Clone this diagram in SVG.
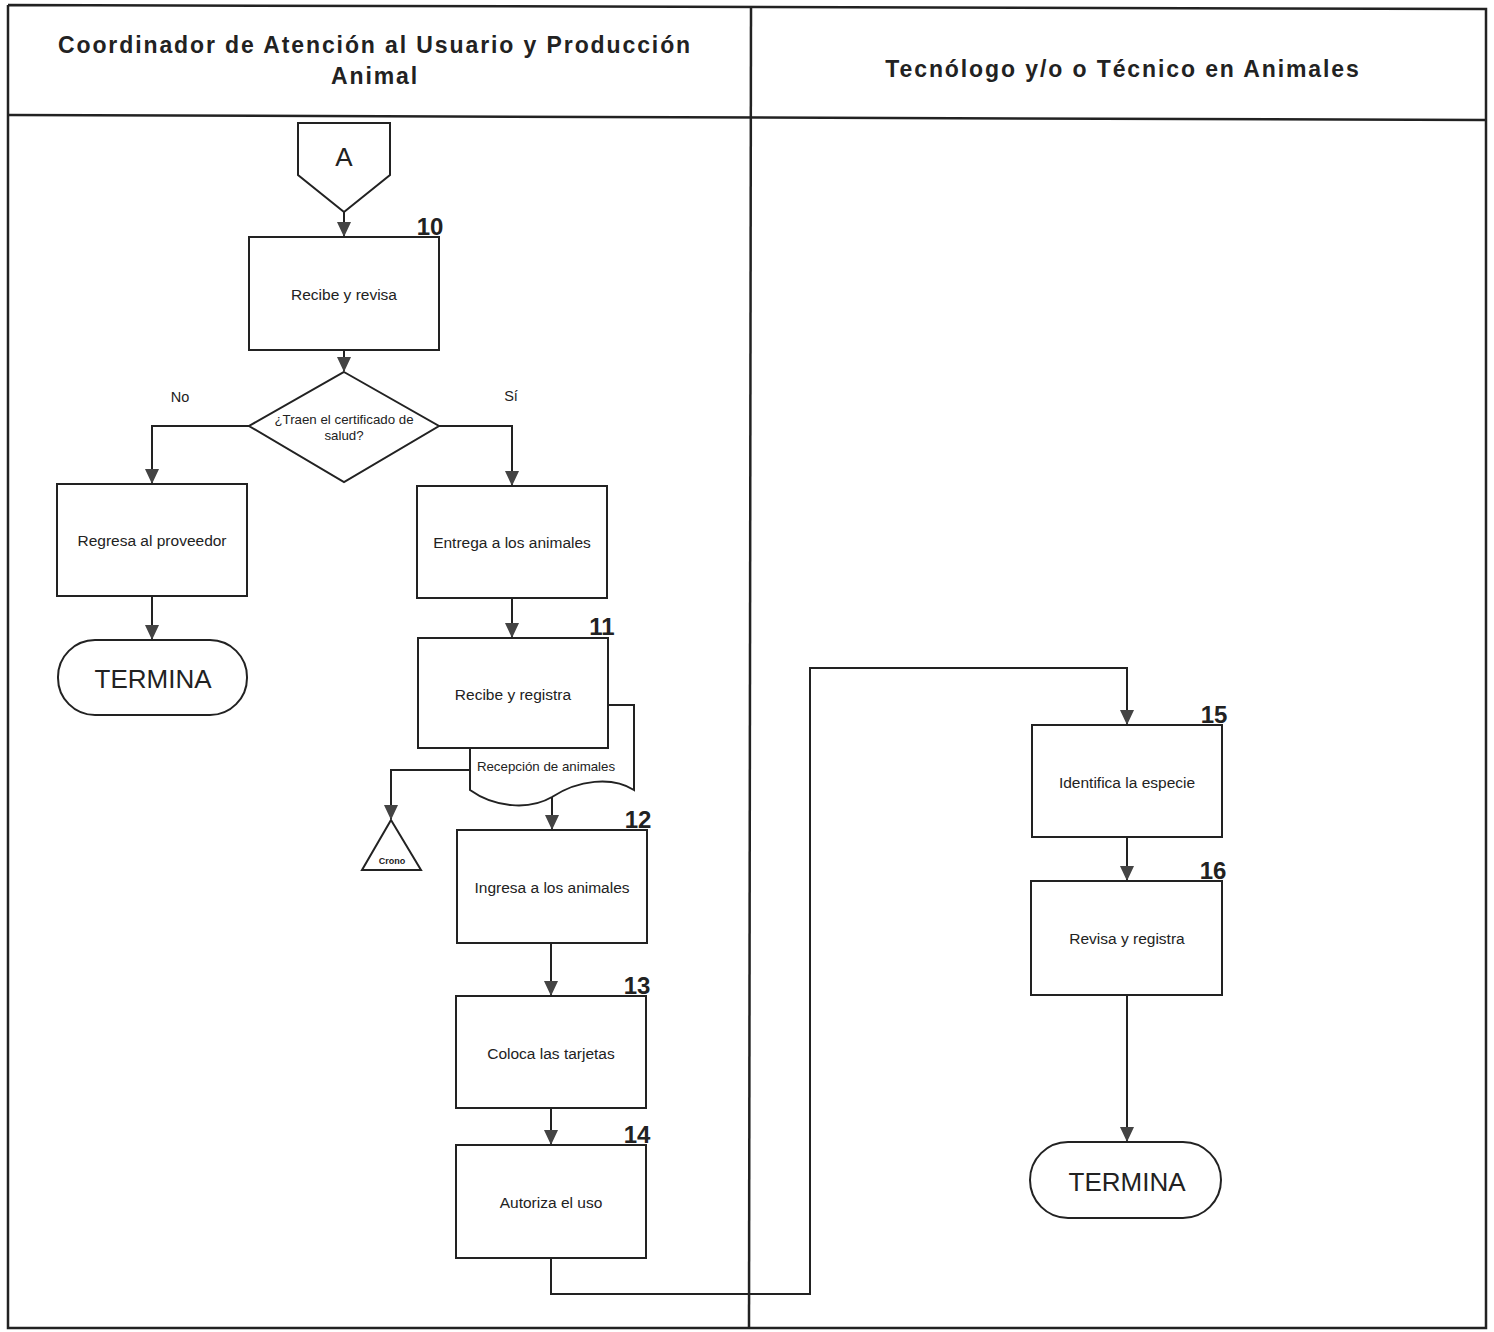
<svg xmlns="http://www.w3.org/2000/svg" width="1494" height="1332" viewBox="0 0 1494 1332">
<style>
.frame{fill:none;stroke:#222;stroke-width:2.5}
.shape{fill:#fff;stroke:#222;stroke-width:2}
.conn{fill:none;stroke:#222;stroke-width:2}
.hdr{font-family:"Liberation Sans",Arial,sans-serif;font-weight:bold;font-size:23px;letter-spacing:1.9px;fill:#222;text-anchor:middle}
.lbl{font-family:"Liberation Sans",Arial,sans-serif;font-size:15.5px;fill:#222;text-anchor:middle}
.num{font-family:"Liberation Sans",Arial,sans-serif;font-weight:bold;font-size:24px;fill:#222;text-anchor:middle}
.term{font-family:"Liberation Sans",Arial,sans-serif;font-size:26px;fill:#222;text-anchor:middle}
.small{font-family:"Liberation Sans",Arial,sans-serif;font-size:13.3px;fill:#222;text-anchor:middle}
</style>
<defs>
<marker id="arr" markerWidth="16" markerHeight="16" refX="14" refY="7" orient="auto" markerUnits="userSpaceOnUse">
<path d="M0,0 L15,7 L0,14 Z" fill="#444"/>
</marker>
</defs>
<rect width="1494" height="1332" fill="#fff"/>
<g id="frame">
<polyline class="frame" points="8,5 1486,9 1486,1328 8,1328 8,5"/>
<line class="frame" x1="751" y1="6" x2="749" y2="1328"/>
<line class="frame" x1="8" y1="115" x2="1486" y2="120"/>
<text class="hdr" x="375" y="53">Coordinador de Atención al Usuario y Producción</text>
<text class="hdr" x="375" y="84">Animal</text>
<text class="hdr" x="1123" y="77">Tecnólogo y/o o Técnico en Animales</text>
</g>
<g id="connectors">
<line class="conn" x1="344" y1="212" x2="344" y2="236" marker-end="url(#arr)"/>
<line class="conn" x1="344" y1="350" x2="344" y2="371" marker-end="url(#arr)"/>
<polyline class="conn" points="249,426 152,426 152,483" marker-end="url(#arr)"/>
<polyline class="conn" points="439,426 512,426 512,485" marker-end="url(#arr)"/>
<line class="conn" x1="152" y1="596" x2="152" y2="639" marker-end="url(#arr)"/>
<line class="conn" x1="512" y1="598" x2="512" y2="637" marker-end="url(#arr)"/>
<polyline class="conn" points="470,770 391,770 391,819" marker-end="url(#arr)"/>
<line class="conn" x1="552" y1="797" x2="552" y2="829" marker-end="url(#arr)"/>
<line class="conn" x1="551" y1="943" x2="551" y2="995" marker-end="url(#arr)"/>
<line class="conn" x1="551" y1="1108" x2="551" y2="1144" marker-end="url(#arr)"/>
<polyline class="conn" points="551,1258 551,1294 810,1294 810,668 1127,668 1127,724" marker-end="url(#arr)"/>
<line class="conn" x1="1127" y1="837" x2="1127" y2="880" marker-end="url(#arr)"/>
<line class="conn" x1="1127" y1="995" x2="1127" y2="1141" marker-end="url(#arr)"/>
<text class="lbl" x="180" y="402" style="font-size:14.5px">No</text>
<text class="lbl" x="511" y="401" style="font-size:14.5px">Sí</text>
</g>
<g id="nodeA">
<polygon class="shape" points="298,123 390,123 390,175 344,212 298,175"/>
<text class="term" x="344" y="166">A</text>
</g>
<g id="node10">
<rect class="shape" x="249" y="237" width="190" height="113"/>
<text class="lbl" x="344" y="300">Recibe y revisa</text>
<text class="num" x="430" y="235">10</text>
</g>
<g id="decision">
<polygon class="shape" points="344,372 439,426 344,482 249,426"/>
<text class="small" x="344" y="424">¿Traen el certificado de</text>
<text class="small" x="344" y="440">salud?</text>
</g>
<g id="regresa">
<rect class="shape" x="57" y="484" width="190" height="112"/>
<text class="lbl" x="152" y="546">Regresa al proveedor</text>
</g>
<g id="termina1">
<rect class="shape" x="58" y="640" width="189" height="75" rx="37" ry="37"/>
<text class="term" x="153" y="688">TERMINA</text>
</g>
<g id="entrega">
<rect class="shape" x="417" y="486" width="190" height="112"/>
<text class="lbl" x="512" y="548">Entrega a los animales</text>
</g>
<g id="documento">
<path class="shape" d="M470,705 L634,705 L634,790 C612,776 578,780 552,797 C530,810 495,808 470,790 Z"/>
<text class="small" x="546" y="771">Recepción de animales</text>
</g>
<g id="node11">
<rect class="shape" x="418" y="638" width="190" height="110"/>
<text class="lbl" x="513" y="700">Recibe y registra</text>
<text class="num" x="602" y="635">11</text>
</g>
<g id="crono">
<polygon class="shape" points="391,820 421,870 362,870"/>
<text x="392" y="864" style="font-family:'Liberation Sans',Arial,sans-serif;font-size:9px;font-weight:bold;fill:#222;text-anchor:middle">Crono</text>
</g>
<g id="node12">
<rect class="shape" x="457" y="830" width="190" height="113"/>
<text class="lbl" x="552" y="893">Ingresa a los animales</text>
<text class="num" x="638" y="828">12</text>
</g>
<g id="node13">
<rect class="shape" x="456" y="996" width="190" height="112"/>
<text class="lbl" x="551" y="1059">Coloca las tarjetas</text>
<text class="num" x="637" y="994">13</text>
</g>
<g id="node14">
<rect class="shape" x="456" y="1145" width="190" height="113"/>
<text class="lbl" x="551" y="1208">Autoriza el uso</text>
<text class="num" x="637" y="1143">14</text>
</g>
<g id="node15">
<rect class="shape" x="1032" y="725" width="190" height="112"/>
<text class="lbl" x="1127" y="788">Identifica la especie</text>
<text class="num" x="1214" y="723">15</text>
</g>
<g id="node16">
<rect class="shape" x="1031" y="881" width="191" height="114"/>
<text class="lbl" x="1127" y="944">Revisa y registra</text>
<text class="num" x="1213" y="879">16</text>
</g>
<g id="termina2">
<rect class="shape" x="1030" y="1142" width="191" height="76" rx="38" ry="38"/>
<text class="term" x="1127" y="1191">TERMINA</text>
</g>
</svg>
